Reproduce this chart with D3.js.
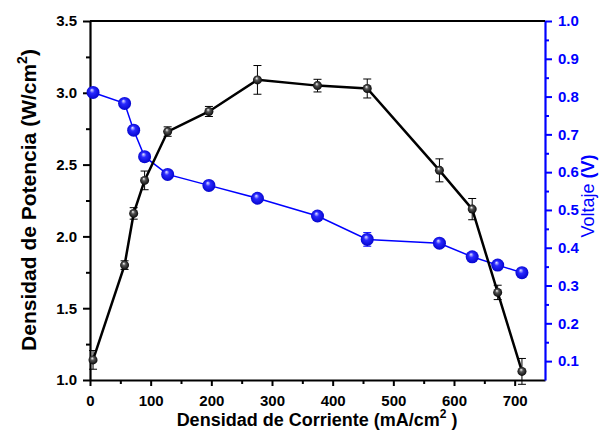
<!DOCTYPE html>
<html>
<head>
<meta charset="utf-8">
<script src="https://d3js.org/d3.v7.min.js"></script>
<style>
  body { margin: 0; background: #fff; }
  text { font-family: "Liberation Sans", Arial, sans-serif; }
</style>
</head>
<body>
<script>
// current density (mA/cm2)
var corriente = [5, 57, 72, 90, 128, 196, 276, 375, 457, 576, 630, 672, 712];
// power density (W/cm2) and its error
var potencia = [1.14, 1.80, 2.16, 2.39, 2.73, 2.87, 3.09, 3.05, 3.03, 2.46, 2.19, 1.61, 1.06];
var potenciaErr = [0.065, 0.03, 0.04, 0.065, 0.033, 0.035, 0.10, 0.044, 0.066, 0.08, 0.074, 0.05, 0.09];
// voltage (V)
var voltaje = [0.811, 0.782, 0.711, 0.641, 0.594, 0.565, 0.531, 0.484, 0.422, 0.412, 0.376, 0.354, 0.334];
var voltajeErr = [0.005, 0.005, 0.005, 0.005, 0.005, 0.005, 0.005, 0.005, 0.018, 0.005, 0.005, 0.005, 0.005];

var xTicks = [0, 100, 200, 300, 400, 500, 600, 700];
var yTicks = [1.0, 1.5, 2.0, 2.5, 3.0, 3.5];
var vTicks = [0.1, 0.2, 0.3, 0.4, 0.5, 0.6, 0.7, 0.8, 0.9, 1.0];

var margin = {top: 21, right: 55, bottom: 50, left: 90},
    width = 600 - margin.left - margin.right,
    height = 430 - margin.top - margin.bottom;

var svg = d3.select("body").append("svg")
    .attr("width", 600).attr("height", 430);

var defs = svg.append("defs");
function ball(id, c0, c1, c2) {
  var g = defs.append("radialGradient").attr("id", id)
    .attr("cx", "50%").attr("cy", "50%").attr("r", "55%")
    .attr("fx", "40%").attr("fy", "30%");
  g.append("stop").attr("offset", "0%").attr("stop-color", c0);
  g.append("stop").attr("offset", "35%").attr("stop-color", c1);
  g.append("stop").attr("offset", "100%").attr("stop-color", c2);
}
ball("gBlack", "#ffffff", "#555555", "#000000");
ball("gBlue", "#e8e8ff", "#2a2aff", "#0000c8");

var g = svg.append("g")
    .attr("transform", "translate(" + margin.left + "," + margin.top + ")");

var x = d3.scaleLinear().domain([0, 750]).range([0, width]);
var y = d3.scaleLinear().domain([1.0, 3.5]).range([height, 0]);
var yv = d3.scaleLinear().domain([0.05, 1.0]).range([height, 0]);

// minor ticks
g.append("g")
    .attr("transform", "translate(0," + height + ")")
    .call(d3.axisBottom(x).tickValues(d3.range(50, 750, 100)).tickSize(4).tickFormat(""))
    .call(function(a) { a.select(".domain").remove(); a.selectAll("line").attr("stroke-width", 2); });
g.append("g")
    .call(d3.axisLeft(y).tickValues([1.25, 1.75, 2.25, 2.75, 3.25]).tickSize(4).tickFormat(""))
    .call(function(a) { a.select(".domain").remove(); a.selectAll("line").attr("stroke-width", 2); });
g.append("g")
    .attr("transform", "translate(" + width + ",0)")
    .call(d3.axisRight(yv).tickValues(d3.range(0.15, 1.0, 0.1)).tickSize(4).tickFormat(""))
    .call(function(a) {
      a.select(".domain").remove();
      a.selectAll("line").attr("stroke", "#0000ff").attr("stroke-width", 2);
    });

// major axes
var xAxis = g.append("g")
    .attr("transform", "translate(0," + height + ")")
    .call(d3.axisBottom(x).tickValues(xTicks).tickSize(6).tickSizeOuter(0).tickPadding(9));
var yAxis = g.append("g")
    .call(d3.axisLeft(y).tickValues(yTicks).tickSize(7).tickSizeOuter(0).tickPadding(6)
      .tickFormat(d3.format(".1f")));
var vAxis = g.append("g")
    .attr("transform", "translate(" + width + ",0)")
    .call(d3.axisRight(yv).tickValues(vTicks).tickSize(7).tickSizeOuter(0).tickPadding(6)
      .tickFormat(d3.format(".1f")));

[xAxis, yAxis].forEach(function(a) {
  a.select(".domain").attr("stroke-width", 2.2);
  a.selectAll("line").attr("stroke-width", 2);
  a.selectAll("text").attr("font-size", 15).attr("font-weight", "bold").attr("fill", "#000");
});
vAxis.select(".domain").attr("stroke", "#0000ff").attr("stroke-width", 2.2);
vAxis.selectAll("line").attr("stroke", "#0000ff").attr("stroke-width", 2);
vAxis.selectAll("text").attr("font-size", 15).attr("font-weight", "bold").attr("fill", "#0000ff");

// top border
g.append("line").attr("x1", 0).attr("x2", width).attr("y1", 0).attr("y2", 0)
    .attr("stroke", "#000").attr("stroke-width", 2.2);

var idx = d3.range(corriente.length);

// voltage series
var lineV = d3.line().x(function(i) { return x(corriente[i]); }).y(function(i) { return yv(voltaje[i]); });
g.append("path").datum(idx).attr("d", lineV)
    .attr("fill", "none").attr("stroke", "#0000ff").attr("stroke-width", 1.5);
var ebV = g.append("g").attr("stroke", "#0000ff").attr("stroke-width", 1);
idx.forEach(function(i) {
  var cx = x(corriente[i]), t = yv(voltaje[i] + voltajeErr[i]), b = yv(voltaje[i] - voltajeErr[i]);
  ebV.append("line").attr("x1", cx).attr("x2", cx).attr("y1", t).attr("y2", b);
  ebV.append("line").attr("x1", cx - 4).attr("x2", cx + 4).attr("y1", t).attr("y2", t);
  ebV.append("line").attr("x1", cx - 4).attr("x2", cx + 4).attr("y1", b).attr("y2", b);
});
g.selectAll(".pv").data(idx).enter().append("circle")
    .attr("cx", function(i) { return x(corriente[i]); })
    .attr("cy", function(i) { return yv(voltaje[i]); })
    .attr("r", 6.5).attr("fill", "url(#gBlue)");

// power series
var lineP = d3.line().x(function(i) { return x(corriente[i]); }).y(function(i) { return y(potencia[i]); });
g.append("path").datum(idx).attr("d", lineP)
    .attr("fill", "none").attr("stroke", "#000").attr("stroke-width", 2.5);
var ebP = g.append("g").attr("stroke", "#000").attr("stroke-width", 1);
idx.forEach(function(i) {
  var cx = x(corriente[i]), t = y(potencia[i] + potenciaErr[i]), b = y(potencia[i] - potenciaErr[i]);
  ebP.append("line").attr("x1", cx).attr("x2", cx).attr("y1", t).attr("y2", b);
  ebP.append("line").attr("x1", cx - 4).attr("x2", cx + 4).attr("y1", t).attr("y2", t);
  ebP.append("line").attr("x1", cx - 4).attr("x2", cx + 4).attr("y1", b).attr("y2", b);
});
g.selectAll(".pp").data(idx).enter().append("circle")
    .attr("cx", function(i) { return x(corriente[i]); })
    .attr("cy", function(i) { return y(potencia[i]); })
    .attr("r", 4.5).attr("fill", "url(#gBlack)");

// axis titles
var xt = svg.append("text")
    .attr("x", 317).attr("y", 426).attr("text-anchor", "middle")
    .attr("font-size", 18).attr("font-weight", "bold");
xt.append("tspan").text("Densidad de Corriente (mA/cm");
xt.append("tspan").attr("font-size", 12).attr("dy", -8).text("2");
xt.append("tspan").attr("dy", 8).text(" )");

var yt = svg.append("text")
    .attr("transform", "translate(36,200) rotate(-90)")
    .attr("text-anchor", "middle")
    .attr("font-size", 21).attr("font-weight", "bold");
yt.append("tspan").text("Densidad de Potencia (W/cm");
yt.append("tspan").attr("font-size", 14).attr("dy", -9).text("2");
yt.append("tspan").attr("dy", 9).text(")");

var vt = svg.append("text")
    .attr("transform", "translate(594,196) rotate(-90)")
    .attr("text-anchor", "middle")
    .attr("font-size", 18).attr("fill", "#0000ff");
vt.append("tspan").text("Voltaje ");
vt.append("tspan").attr("font-weight", "bold").text("(V)");
</script>
</body>
</html>
